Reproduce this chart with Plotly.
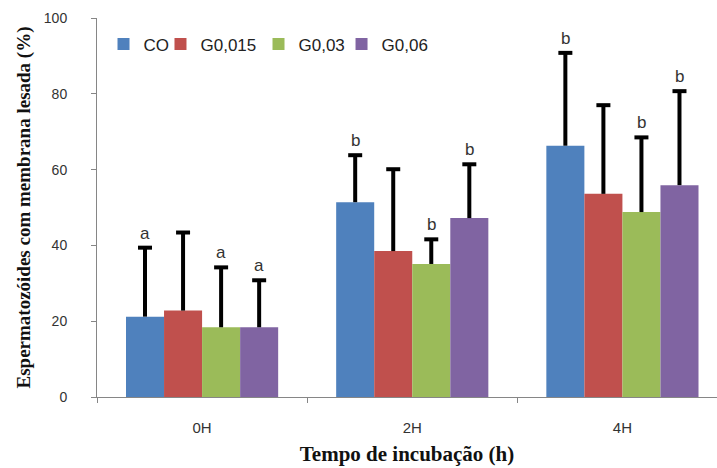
import plotly.graph_objects as go

categories = ["0H", "2H", "4H"]
series_names = ["CO", "G0,015", "G0,03", "G0,06"]
colors = ["#4F81BD", "#C0504D", "#9BBB59", "#8064A2"]

co_values = [21.2, 51.4, 66.3]
g0015_values = [22.8, 38.5, 53.6]
g003_values = [18.4, 35.1, 48.8]
g006_values = [18.4, 47.2, 55.9]

co_err_top = [39.4, 63.8, 90.8]
g0015_err_top = [43.4, 60.1, 77.0]
g003_err_top = [34.2, 41.6, 68.5]
g006_err_top = [30.8, 61.4, 80.7]

co_letters = ["a", "b", "b"]
g0015_letters = ["", "", ""]
g003_letters = ["a", "b", "b"]
g006_letters = ["a", "b", "b"]

values = [co_values, g0015_values, g003_values, g006_values]
err_tops = [co_err_top, g0015_err_top, g003_err_top, g006_err_top]
letters = [co_letters, g0015_letters, g003_letters, g006_letters]

bargap = 0.276
bar_w = (1 - bargap) / 4
legend_x = [0.0105, 0.1024, 0.2605, 0.3944]
legend_ids = ["legend", "legend2", "legend3", "legend4"]

fig = go.Figure()
for j, name in enumerate(series_names):
    vals = values[j]
    fig.add_trace(go.Bar(
        name=name, x=categories, y=vals, marker_color=colors[j],
        marker_line_width=0, offsetgroup=str(j), legend=legend_ids[j],
    ))
for j, name in enumerate(series_names):
    vals = values[j]
    downs = [t - v for t, v in zip(err_tops[j], vals)]
    fig.add_trace(go.Scatter(
        x=categories, y=err_tops[j], mode="markers", offsetgroup=str(j),
        showlegend=False, hoverinfo="skip",
        marker=dict(symbol="line-ew-open", size=10, color="black",
                    line=dict(width=4, color="black")),
        error_y=dict(type="data", symmetric=False, array=[0] * len(vals),
                     arrayminus=downs, color="black", thickness=4, width=0),
    ))

annotations = []
for j in range(4):
    for i in range(len(categories)):
        if letters[j][i]:
            annotations.append(dict(
                x=i + (j - 1.5) * bar_w, y=err_tops[j][i], xref="x", yref="y",
                text=letters[j][i], showarrow=False, yanchor="bottom", yshift=3,
                font=dict(family="Liberation Sans", size=17, color="#333333"),
            ))

legend_common = dict(orientation="h", y=0.93, xanchor="left", yanchor="middle",
                     font=dict(family="Liberation Sans", size=17, color="#222222"),
                     bgcolor="rgba(0,0,0,0)")
layout_legends = {}
for k, lid in enumerate(legend_ids):
    layout_legends[lid] = dict(legend_common, x=legend_x[k])

fig.update_layout(
    width=717, height=468,
    margin=dict(l=97, r=0, t=18, b=71),
    paper_bgcolor="white", plot_bgcolor="white",
    barmode="group", bargap=bargap, bargroupgap=0,
    scattermode="group", scattergap=bargap,
    showlegend=True,
    annotations=annotations,
    font=dict(family="Liberation Sans", color="#333333"),
    **layout_legends,
)
fig.update_xaxes(
    type="category", range=[-0.5, 2.45], tickson="boundaries",
    ticks="outside", ticklen=5, tickcolor="#868686",
    showline=True, linecolor="#868686", linewidth=1, showgrid=False,
    ticklabelstandoff=17,
    tickfont=dict(family="Liberation Sans", size=15, color="#333333"),
    title=dict(text="<b>Tempo de incubação (h)</b>", standoff=11,
               font=dict(family="Liberation Serif", size=21, color="#111111")),
)
fig.update_yaxes(
    range=[0, 100], tickvals=[0, 20, 40, 60, 80, 100],
    ticks="outside", ticklen=5, tickcolor="#868686",
    showline=True, linecolor="#868686", linewidth=1, showgrid=False, zeroline=False,
    ticklabelstandoff=21,
    tickfont=dict(family="Liberation Sans", size=14, color="#333333"),
    title=dict(text="<b>Espermatozóides com membrana lesada (%)</b>", standoff=8,
               font=dict(family="Liberation Serif", size=19, color="#111111")),
)

fig.write_html("out.html")
